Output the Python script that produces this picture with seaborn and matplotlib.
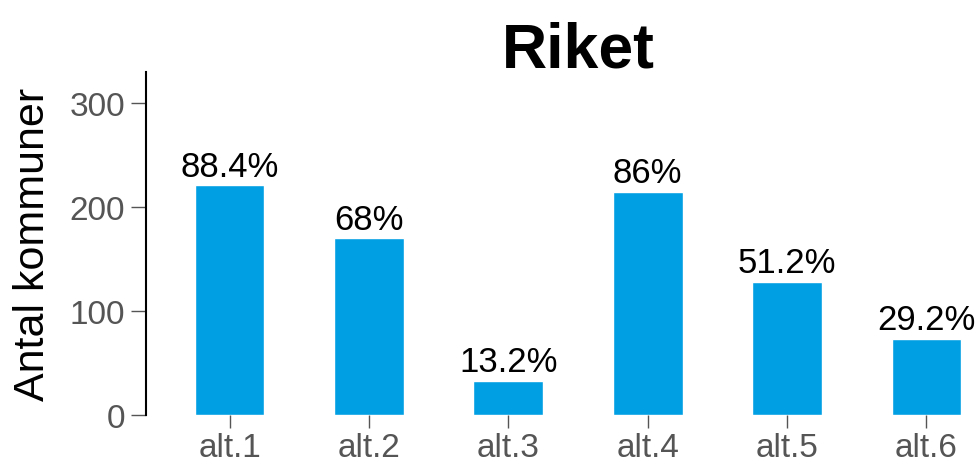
import matplotlib
matplotlib.use("Agg")
import pandas as pd
import seaborn as sns
import matplotlib.pyplot as plt

categories = ['alt.1', 'alt.2', 'alt.3', 'alt.4', 'alt.5', 'alt.6']
counts = [221, 170, 33, 215, 128, 73]
total = 250

df = pd.DataFrame({'alt': categories, 'antal': counts})
df['pct'] = [f"{round(c / total * 100, 1):g}%" for c in counts]

sns.set_style('white')
plt.rcParams['font.family'] = ['Liberation Sans', 'DejaVu Sans']

fig = plt.figure(figsize=(9.78, 4.64), dpi=100)
ax = fig.add_axes([146 / 978, 48 / 464, 864 / 978, 343 / 464])

sns.barplot(x='alt', y='antal', data=df, color='#009FE3', width=0.5,
            saturation=1, ax=ax)
ax.bar_label(ax.containers[0], labels=df['pct'], fontsize=25, padding=2,
             color='black')

ax.set_xlim(-0.6, 5.6)
ax.set_ylim(0, 330)
ax.set_yticks([0, 100, 200, 300])
ax.set_title('Riket', fontsize=45, fontweight='bold', pad=4, color='black')
ax.set_xlabel('')
ax.set_ylabel('Antal kommuner', fontsize=31, labelpad=12, color='black')

sns.despine(ax=ax, top=True, right=True, bottom=True)
ax.spines['left'].set_color('black')
ax.spines['left'].set_linewidth(1.5)
ax.tick_params(axis='y', left=True, length=11, width=1, color='#555555',
               labelsize=24, labelcolor='#555555', pad=4)
ax.tick_params(axis='x', bottom=True, length=9, width=1, color='#555555',
               labelsize=24, labelcolor='#555555', pad=3)

fig.savefig('out.png', dpi=100)
